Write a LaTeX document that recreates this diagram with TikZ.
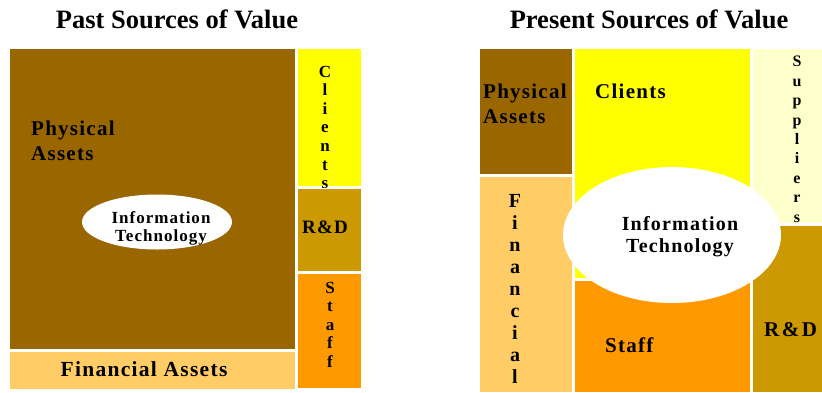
\documentclass[tikz,border=0pt]{standalone}
\usepackage{fontspec}
\setmainfont{Liberation Serif}
\newfontfamily\spaced{Liberation Serif}[LetterSpace=6]
\usetikzlibrary{positioning}

\definecolor{physical}{HTML}{996600}
\definecolor{financial}{HTML}{FFCC66}
\definecolor{clients}{HTML}{FFFF00}
\definecolor{randd}{HTML}{CC9900}
\definecolor{staff}{HTML}{FF9900}
\definecolor{suppliers}{HTML}{FFFFCC}

\tikzset{
  area/.style={draw=white, line width=0.6pt},
  title/.style={inner sep=0pt, anchor=base, font=\bfseries\fontsize{26.5}{30}\selectfont},
  lbl/.style={inner sep=0pt, anchor=base west, align=left, font=\spaced\bfseries\fontsize{21}{25}\selectfont},
  vert/.style={inner sep=0pt, anchor=base, align=center, font=\spaced\bfseries\fontsize{17}{18.6}\selectfont},
  itlabel/.style={inner sep=0pt, anchor=base, align=center}
}

\begin{document}
\begin{tikzpicture}[x=1pt, y=-1pt]
    \useasboundingbox (0,0) rectangle (822,392);

    % ================================
    % Past

    \node[title] (pasttitle) at (177,28) {Past Sources of Value};

    % Physical Assets
    \fill[physical, area] (9,48) rectangle (295,349);
    \node[lbl] (pastphys) at (31,160) {Physical\\Assets};

    % Financial Assets
    \fill[financial, area] (9,351) rectangle (295,389);
    \node[lbl, anchor=base, font=\spaced\bfseries\fontsize{21.5}{25}\selectfont] (pastfin) at (144,376) {Financial Assets};

    % Clients
    \fill[clients, area] (297,48) rectangle (361,186);
    \node[vert] (pastcli) at (325,188.6) {C\\l\\i\\e\\n\\t\\s};

    % R&D
    \fill[randd, area] (297,188) rectangle (361,271);
    \node[lbl, anchor=base, font=\spaced\bfseries\fontsize{19}{22}\selectfont] (pastrd) at (325,233) {R\&D};

    % Staff
    \fill[staff, area] (297,273) rectangle (361,388);
    \node[vert] (paststaff) at (330,367.4) {S\\t\\a\\f\\f};

    % Information Technology
    \fill[white] (157,222) ellipse [x radius=75, y radius=27.5];
    \node[itlabel, font=\spaced\bfseries\fontsize{17}{18}\selectfont] (pastit) at (161,241) {Information\\Technology};

    % ================================
    % Present

    \node[title] (prestitle) at (649,28) {Present Sources of Value};

    % Physical Assets
    \fill[physical, area] (479,48) rectangle (572,174);
    \node[lbl] (presphys) at (483,123) {Physical\\Assets};

    % Financial
    \fill[financial, area] (479,176) rectangle (572,392);
    \node[vert, font=\spaced\bfseries\fontsize{20}{22}\selectfont] (presfin) at (515,383) {F\\i\\n\\a\\n\\c\\i\\a\\l};

    % Clients
    \fill[clients, area] (574,48) rectangle (750,278);
    \node[lbl] (prescli) at (595,98) {Clients};

    % Staff
    \fill[staff, area] (574,280) rectangle (750,392);
    \node[lbl] (presstaff) at (605,352) {Staff};

    % Suppliers
    \fill[suppliers, area] (752,48) rectangle (822,223);
    \node[vert, font=\spaced\bfseries\fontsize{16}{19.4}\selectfont] (pressup) at (797,222) {S\\u\\p\\p\\l\\i\\e\\r\\s};

    % R&D
    \fill[randd, area] (752,225) rectangle (822,392);
    \node[lbl, font=\bfseries\addfontfeature{LetterSpace=12}\fontsize{21}{25}\selectfont] (presrd) at (764,336) {R\&D};

    % Information Technology
    \fill[white] (672,235) ellipse [x radius=109, y radius=68];
    \node[itlabel, font=\spaced\bfseries\fontsize{20}{22}\selectfont] (presit) at (680,252) {Information\\Technology};

\end{tikzpicture}
\end{document}
